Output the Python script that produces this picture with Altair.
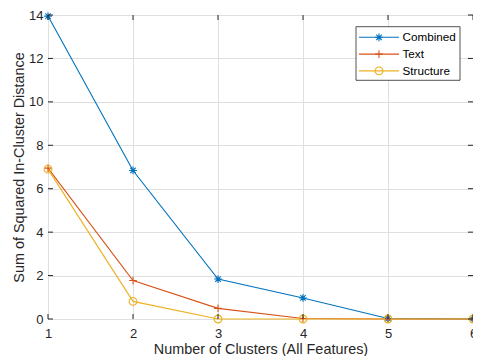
import altair as alt
import pandas as pd

clusters = [1, 2, 3, 4, 5, 6]
combined = [13.95, 6.84, 1.84, 0.97, 0.02, 0.0]
text_vals = [6.95, 1.77, 0.49, 0.02, 0.0, 0.0]
structure = [6.9, 0.81, 0.0, 0.0, 0.0, 0.0]
series_names = ["Combined", "Text", "Structure"]
colors = ["#0072BD", "#D95319", "#EDB120"]
x_ticks = [1, 2, 3, 4, 5, 6]
y_ticks = [0, 2, 4, 6, 8, 10, 12, 14]

ASTERISK = "M0,-1L0,1M-1,0L1,0M-0.7,-0.7L0.7,0.7M-0.7,0.7L0.7,-0.7"
PLUS = "M0,-1L0,1M-1,0L1,0"
shapes = [ASTERISK, PLUS, "circle"]

W, H = 425, 304
FONT = "Liberation Sans"
INK = "#262626"

rows = []
for name, vals in zip(series_names, [combined, text_vals, structure]):
    for c, v in zip(clusters, vals):
        rows.append({"k": c, "v": v, "series": name})
df = pd.DataFrame(rows)

xscale = alt.Scale(domain=[1, 6], nice=False, zero=False)
yscale = alt.Scale(domain=[0, 14], nice=False)
color = alt.Color("series:N", scale=alt.Scale(domain=series_names, range=colors), legend=None)
shape = alt.Shape("series:N", scale=alt.Scale(domain=series_names, range=shapes), legend=None)

base = alt.Chart(df)
lines = base.mark_line(strokeWidth=1.1).encode(
    x=alt.X("k:Q", scale=xscale,
            axis=alt.Axis(values=x_ticks, format="d", title="Number of Clusters (All Features)", grid=True,
                          gridColor="#dfdfdf", tickSize=0, domain=False, labelPadding=8,
                          labelFontSize=13, labelColor=INK, labelFont=FONT, titleFont=FONT,
                          titleFontSize=14.4, titleFontWeight="normal", titleColor=INK,
                          titleBaseline="alphabetic", titleY=34, labelFlush=False)),
    y=alt.Y("v:Q", scale=yscale,
            axis=alt.Axis(values=y_ticks, format="d", title="Sum of Squared In-Cluster Distance", grid=True,
                          gridColor="#dfdfdf", tickSize=0, domain=False, labelPadding=5,
                          labelFontSize=13, labelColor=INK, labelFont=FONT, titleFont=FONT,
                          titleFontSize=14.4, titleFontWeight="normal", titleColor=INK,
                          titleBaseline="alphabetic", titleAngle=-90, titleX=-25, labelFlush=False)),
    color=color,
    detail="series:N",
)
points = base.mark_point(filled=False, strokeWidth=1.1, size=60, opacity=1).encode(
    x=alt.X("k:Q", scale=xscale),
    y=alt.Y("v:Q", scale=yscale),
    color=color,
    shape=shape,
)

xt = pd.DataFrame({"t": x_ticks})
yt = pd.DataFrame({"t": y_ticks})
xb = alt.Chart(xt).mark_rule(color=INK, strokeWidth=1).encode(
    x=alt.X("t:Q", scale=xscale), y=alt.value(H), y2=alt.value(H - 5))
xtop = alt.Chart(xt).mark_rule(color=INK, strokeWidth=1).encode(
    x=alt.X("t:Q", scale=xscale), y=alt.value(0), y2=alt.value(5))
yl = alt.Chart(yt).mark_rule(color=INK, strokeWidth=1).encode(
    y=alt.Y("t:Q", scale=yscale), x=alt.value(0), x2=alt.value(5))
yr = alt.Chart(yt).mark_rule(color=INK, strokeWidth=1).encode(
    y=alt.Y("t:Q", scale=yscale), x=alt.value(W), x2=alt.value(W - 5))

# legend (drawn manually to show line + marker)
LX = 308
leg = pd.DataFrame({"series": series_names, "i": [0, 1, 2]})
leg_box = alt.Chart(pd.DataFrame({"a": [0]})).mark_rect(
    fill="white", stroke=INK, strokeWidth=0.8).encode(
    x=alt.value(LX), x2=alt.value(LX + 104), y=alt.value(11.7), y2=alt.value(65.3))
legc = alt.Chart(leg).transform_calculate(py="22.3 + datum.i * 16.8")
leg_line = legc.mark_rule(strokeWidth=1.1).encode(
    x=alt.value(LX + 3), x2=alt.value(LX + 43), y=alt.Y("py:Q", scale=None), color=color)
leg_pt = legc.mark_point(filled=False, strokeWidth=1.1, size=60, opacity=1).encode(
    x=alt.value(LX + 23), y=alt.Y("py:Q", scale=None), color=color, shape=shape)
leg_txt = legc.mark_text(align="left", baseline="middle", fontSize=11.7, font=FONT, color="#000000").encode(
    x=alt.value(LX + 46.5), y=alt.Y("py:Q", scale=None), text="series:N")

chart = alt.layer(lines, points, xb, xtop, yl, yr, leg_box, leg_line, leg_pt, leg_txt).properties(
    width=W, height=H,
    autosize=alt.AutoSizeParams(type="none"),
    padding={"left": 40, "top": 7, "right": 0, "bottom": 37},
).configure_view(stroke=INK, strokeWidth=1).configure(background="white")

chart.save("out.html", embed_options={"renderer": "svg", "actions": False})
